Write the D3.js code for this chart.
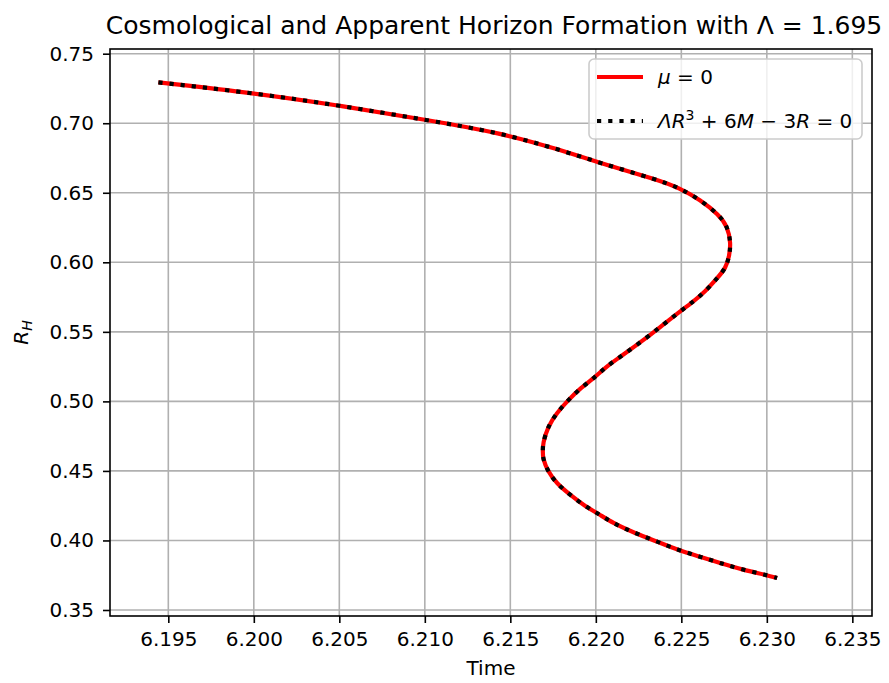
<!DOCTYPE html>
<html><head><meta charset="utf-8">
<script src="https://cdn.jsdelivr.net/npm/d3@7"></script>
<style>body{margin:0;background:#fff}svg{display:block}text{font-family:"DejaVu Sans",sans-serif;fill:#000}</style>
</head><body>
<svg id="c" width="889" height="683"></svg>
<script>
const timeVals = [6.19442,6.2000,6.2050,6.2100,6.2144,6.2179,6.2202,6.2236,6.2249,6.2261,6.2272,6.2277,6.2279,6.2278,6.2276,6.2271,6.2264,6.2257,6.2248,6.2238,6.2228,6.2216,6.2206,6.2200,6.2191,6.2184,6.2177,6.2172,6.2169,6.2169,6.2169,6.2172,6.2177,6.2185,6.2194,6.2201,6.2210,6.2223,6.2236,6.2248,6.2261,6.2273,6.2286,6.2300,6.2306];
const rhVals   = [0.7294,0.7217,0.7128,0.7025,0.6932,0.6809,0.6716,0.6594,0.6534,0.6450,0.6342,0.6258,0.6138,0.6042,0.5958,0.5886,0.5790,0.5718,0.5635,0.5538,0.5442,0.5335,0.5250,0.5178,0.5095,0.5011,0.4915,0.4819,0.4699,0.4637,0.4591,0.4495,0.4411,0.4327,0.4243,0.4196,0.4124,0.4052,0.3991,0.3932,0.3883,0.3836,0.3789,0.3751,0.3730];
const xTicks = [6.195,6.200,6.205,6.210,6.215,6.220,6.225,6.230,6.235];
const yTicks = [0.35,0.40,0.45,0.50,0.55,0.60,0.65,0.70,0.75];
const xDomain = [6.19159,6.23615];
const yDomain = [0.34568,0.75338];

const svg = d3.select("#c");
const L=110,R=872,T=49,B=616;
const FS=20;
const x = d3.scaleLinear().domain(xDomain).range([L,R]);
const y = d3.scaleLinear().domain(yDomain).range([B,T]);
const data = timeVals.map((t,i)=>({t, r: rhVals[i]}));

// grid
const g = svg.append("g");
g.selectAll(".gx").data(xTicks).join("line").attr("x1",d=>x(d)).attr("x2",d=>x(d)).attr("y1",T).attr("y2",B).attr("stroke","#b0b0b0").attr("stroke-width",1.6);
g.selectAll(".gy").data(yTicks).join("line").attr("y1",d=>y(d)).attr("y2",d=>y(d)).attr("x1",L).attr("x2",R).attr("stroke","#b0b0b0").attr("stroke-width",1.6);

const line = d3.line().x(d=>x(d.t)).y(d=>y(d.r)).curve(d3.curveBasis);
svg.append("path").datum(data).attr("d",line).attr("fill","none").attr("stroke","#ff0000").attr("stroke-width",4.2);
svg.append("path").datum(data).attr("d",line).attr("fill","none").attr("stroke","#000").attr("stroke-width",4.2).attr("stroke-dasharray","4.2,7");

// axes
const xa = svg.append("g").attr("transform",`translate(0,${B})`).call(d3.axisBottom(x).tickValues(xTicks).tickFormat(d3.format(".3f")).tickSize(7).tickPadding(9));
const ya = svg.append("g").attr("transform",`translate(${L},0)`).call(d3.axisLeft(y).tickValues(yTicks).tickFormat(d3.format(".2f")).tickSize(7).tickPadding(9));
[xa,ya].forEach(a=>{a.select(".domain").remove();a.selectAll("text").attr("font-size",FS).attr("font-family","DejaVu Sans").attr("fill","#000");a.selectAll("line").attr("stroke-width",1.6);});
svg.append("rect").attr("x",L).attr("y",T).attr("width",R-L).attr("height",B-T).attr("fill","none").attr("stroke","#000").attr("stroke-width",1.6);

// labels
svg.append("text").attr("x",494).attr("y",34).attr("text-anchor","middle").attr("font-size",25).text("Cosmological and Apparent Horizon Formation with Λ = 1.695");
svg.append("text").attr("x",(L+R)/2).attr("y",675).attr("text-anchor","middle").attr("font-size",FS).text("Time");
const yl = svg.append("text").attr("transform",`translate(28,${(T+B)/2}) rotate(-90)`).attr("text-anchor","middle").attr("font-size",FS);
yl.append("tspan").attr("font-style","italic").text("R");
yl.append("tspan").attr("font-style","italic").attr("font-size",14).attr("dy",4).text("H");

// legend
const lg = svg.append("g");
lg.append("rect").attr("x",589).attr("y",59).attr("width",273).attr("height",80).attr("rx",5).attr("fill","#fff").attr("fill-opacity",0.8).attr("stroke","#cccccc").attr("stroke-width",1.6);
lg.append("line").attr("x1",597).attr("x2",643).attr("y1",77).attr("y2",77).attr("stroke","#ff0000").attr("stroke-width",4.2);
lg.append("line").attr("x1",597).attr("x2",643).attr("y1",121).attr("y2",121).attr("stroke","#000").attr("stroke-width",4.2).attr("stroke-dasharray","4.2,7");
const t1 = lg.append("text").attr("x",658).attr("y",84).attr("font-size",FS);
t1.append("tspan").attr("font-style","italic").text("μ");
t1.append("tspan").text(" = 0");
const t2 = lg.append("text").attr("x",658).attr("y",128).attr("font-size",FS);
t2.append("tspan").attr("font-style","italic").text("ΛR");
t2.append("tspan").attr("font-size",14).attr("dy",-8).text("3");
t2.append("tspan").attr("dy",8).text(" + 6");
t2.append("tspan").attr("font-style","italic").text("M");
t2.append("tspan").text(" − 3");
t2.append("tspan").attr("font-style","italic").text("R");
t2.append("tspan").text(" = 0");
</script>
</body></html>
